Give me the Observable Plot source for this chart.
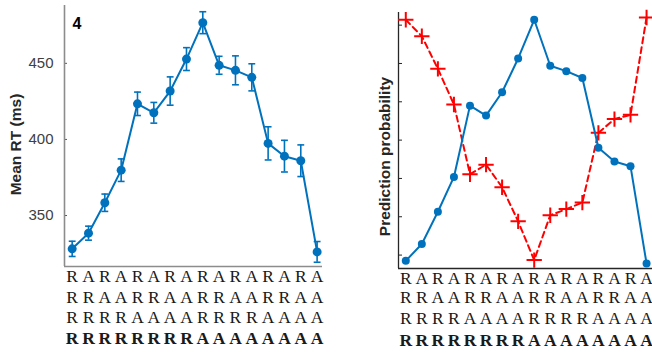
<!DOCTYPE html>
<html><head><meta charset="utf-8">
<script src="https://cdn.jsdelivr.net/npm/d3@7"></script>
<script src="https://cdn.jsdelivr.net/npm/@observablehq/plot@0.6"></script>
<style>
body{margin:0;background:#fff;}
#wrap{position:relative;width:652px;height:352px;overflow:hidden;background:#fff;}
#left{position:absolute;left:0;top:0;}
#right{position:absolute;left:330px;top:0;}
</style></head><body><div id="wrap"><div id="left"></div><div id="right"></div></div>
<script>
// ---- data ----
const positions = [1,2,3,4,5,6,7,8,9,10,11,12,13,14,15,16];
const row1 = ["R","A","R","A","R","A","R","A","R","A","R","A","R","A","R","A"];
const row2 = ["R","R","A","A","R","R","A","A","R","R","A","A","R","R","A","A"];
const row3 = ["R","R","R","R","A","A","A","A","R","R","R","R","A","A","A","A"];
const row4 = ["R","R","R","R","R","R","R","R","A","A","A","A","A","A","A","A"];
const rtMean = [328.1,338.4,358.4,379.8,423.4,417.5,431.8,452.8,476.7,448.7,445.4,440.8,397.4,389.0,386.0,326.1];
const rtErr  = [5.0,4.6,5.7,7.4,7.7,6.8,9.3,7.5,7.2,5.9,9.5,8.9,10.9,10.4,10.4,6.8];
const predBlue = [0.085,0.129,0.213,0.304,0.490,0.464,0.525,0.613,0.714,0.594,0.580,0.562,0.380,0.344,0.332,0.078];
const predRed  = [0.714,0.671,0.586,0.493,0.311,0.336,0.277,0.188,0.087,0.204,0.220,0.237,0.419,0.455,0.466,0.720];
const rtTicks = [350,400,450];
const predTicks = [0.1,0.2,0.3,0.4,0.5,0.6,0.7];
const panelLabel = "4";
const leftTitle = "Mean RT (ms)";
const rightTitle = "Prediction probability";

const blue = "#0072BD", red = "#FF0000";
const rows = [row1,row2,row3,row4];
const serif = "'Liberation Serif', 'DejaVu Serif', serif";
const sans = "'Liberation Sans', Arial, Helvetica, sans-serif";

function letterMarks(dys) {
  return rows.map((row,k) => Plot.text(positions, {
    x: d => d, text: (d,i) => row[i], frameAnchor: "bottom", dy: dys[k],
    lineAnchor: "middle", fontFamily: serif, fontSize: 17.5,
    fontWeight: k === 3 ? "bold" : "normal", fill: "#1a1a1a"
  }));
}

// ---- left panel ----
const lx = [0.53, 16.33], ly = [316.5, 488];
const rt = positions.map((p,k) => ({i: p, m: rtMean[k], e: rtErr[k]}));
const left = Plot.plot({
  width: 330, height: 352,
  marginLeft: 64, marginRight: 8, marginTop: 5, marginBottom: 86,
  style: {fontFamily: sans, fontSize: "15px", background: "#fff"},
  x: {domain: lx, axis: null},
  y: {domain: ly, label: null},
  marks: [
    Plot.axisY({ticks: rtTicks, tickSize: 0, tickPadding: 11, color: "#404040", fontSize: 15, label: null}),
    Plot.axisY({ticks: rtTicks, tickSize: -3, tickFormat: () => "", color: "#555", label: null}),
    Plot.ruleX([lx[0]], {stroke: "#8c8c8c", strokeWidth: 1.6}),
    Plot.ruleY([ly[0]], {stroke: "#8c8c8c", strokeWidth: 1.6}),
    Plot.ruleX(rt, {x: "i", y1: d => d.m - d.e, y2: d => d.m + d.e, stroke: blue, strokeWidth: 1.6}),
    Plot.link(rt, {x1: d => d.i - 0.21, x2: d => d.i + 0.21, y1: d => d.m - d.e, y2: d => d.m - d.e, stroke: blue, strokeWidth: 1.6}),
    Plot.link(rt, {x1: d => d.i - 0.21, x2: d => d.i + 0.21, y1: d => d.m + d.e, y2: d => d.m + d.e, stroke: blue, strokeWidth: 1.6}),
    Plot.line(rt, {x: "i", y: "m", stroke: blue, strokeWidth: 2}),
    Plot.dot(rt, {x: "i", y: "m", r: 4.5, fill: blue, stroke: "none"}),
    Plot.text([panelLabel], {frameAnchor: "top-left", dx: 8, dy: 18, lineAnchor: "middle", textAnchor: "start", fontWeight: "bold", fontSize: 16, fill: "#000"}),
    Plot.text([leftTitle], {frameAnchor: "left", dx: -48, dy: 8.5, rotate: -90, lineAnchor: "middle", textAnchor: "middle", fontWeight: "bold", fontSize: 15.5, fill: "#262626"}),
    ...letterMarks([10, 30.7, 50.7, 72])
  ]
});
document.getElementById("left").appendChild(left);

// ---- right panel ----
const rx = [0.546, 16.37], ry = [0.065, 0.733];
const pb = positions.map((p,k) => ({i: p, v: predBlue[k]}));
const pr = positions.map((p,k) => ({i: p, v: predRed[k]}));
const right = Plot.plot({
  width: 322, height: 352,
  marginLeft: 68, marginRight: 0, marginTop: 12, marginBottom: 84,
  style: {fontFamily: sans, fontSize: "15px", background: "#fff"},
  x: {domain: rx, axis: null},
  y: {domain: ry, label: null},
  marks: [
    Plot.axisY({ticks: predTicks, tickSize: -4, tickFormat: () => "", color: "#262626", label: null}),
    Plot.ruleX([rx[0]], {stroke: "#262626", strokeWidth: 1.3}),
    Plot.ruleY([ry[0]], {stroke: "#262626", strokeWidth: 1.3}),
    Plot.line(pr, {x: "i", y: "v", stroke: red, strokeWidth: 2, strokeDasharray: "6,4"}),
    Plot.dot(pr, {x: "i", y: "v", symbol: "plus", r: 5, stroke: red, strokeWidth: 2}),
    Plot.line(pb, {x: "i", y: "v", stroke: blue, strokeWidth: 2}),
    Plot.dot(pb, {x: "i", y: "v", r: 4, fill: blue, stroke: "none"}),
    Plot.text([rightTitle], {frameAnchor: "left", dx: -13, dy: 16, rotate: -90, lineAnchor: "middle", textAnchor: "middle", fontWeight: "bold", fontSize: 15.5, fill: "#262626"}),
    ...letterMarks([10.3, 29.3, 50.3, 72])
  ]
});
document.getElementById("right").appendChild(right);
</script></body></html>
